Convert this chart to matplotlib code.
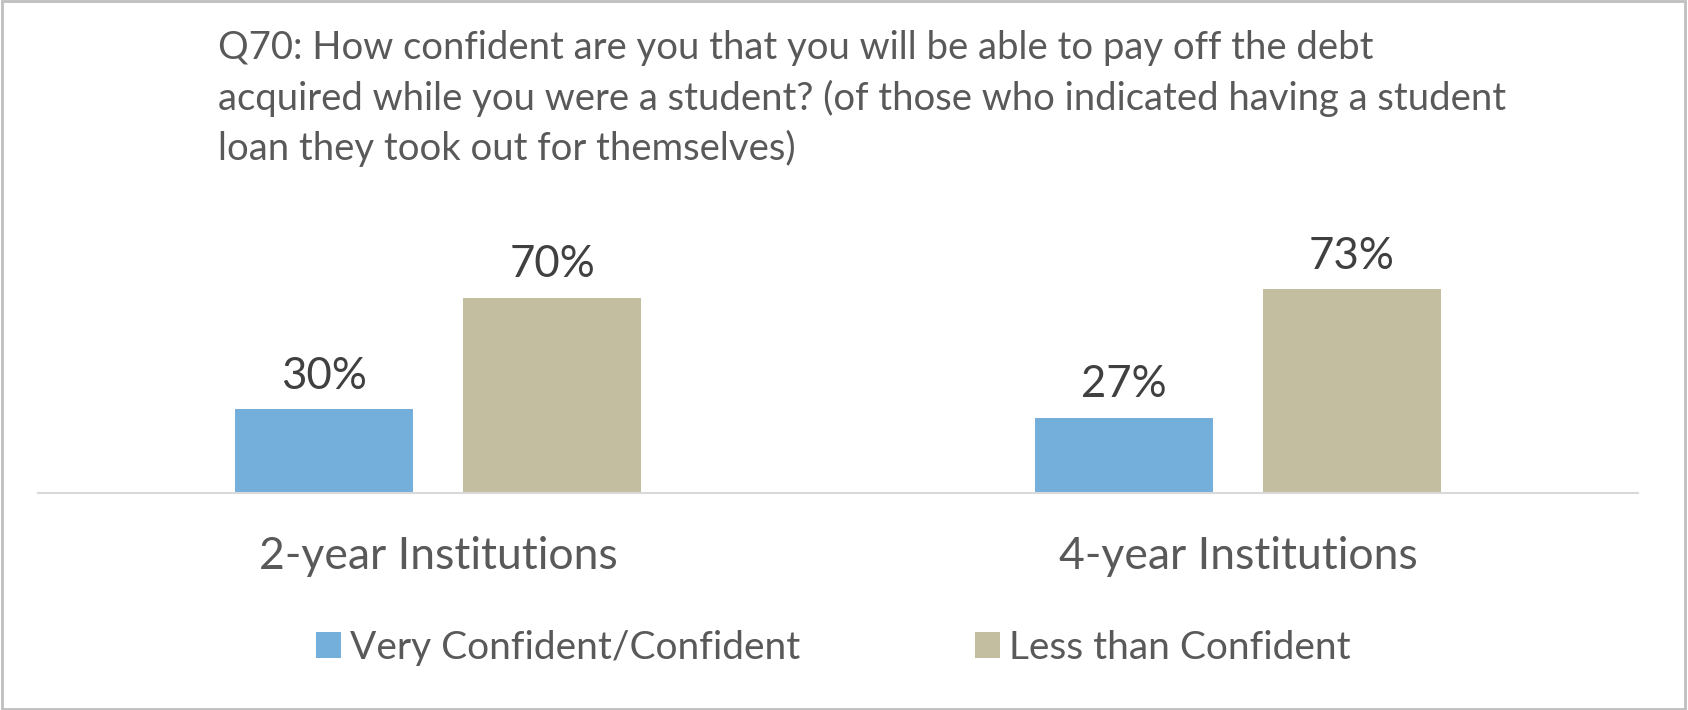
import matplotlib.pyplot as plt
from matplotlib.patches import Patch, Rectangle

# data
categories = ['2-year Institutions', '4-year Institutions']
series_names = ['Very Confident/Confident', 'Less than Confident']
very_confident = [30, 27]
less_confident = [70, 73]
title = ('Q70: How confident are you that you will be able to pay off the debt\n'
         'acquired while you were a student? (of those who indicated having a student\n'
         'loan they took out for themselves)')

blue = '#74AFDB'
tan = '#C4BEA0'
text_gray = '#595959'
label_gray = '#404040'

plt.rcParams['font.family'] = ['Lato', 'DejaVu Sans']

fig = plt.figure(figsize=(16.88, 7.10), dpi=100)
ax = fig.add_axes([38 / 1688, 217 / 710, 1600 / 1688, 223.2 / 710])

x = list(range(len(categories)))
w = 0.2225
off = 0.1425
b1 = ax.bar([i - off for i in x], very_confident, w, color=blue)
b2 = ax.bar([i + off for i in x], less_confident, w, color=tan)

for bars in (b1, b2):
    ax.bar_label(bars, labels=[f'{v}%' for v in bars.datavalues], padding=9,
                 fontsize=31.5, color=label_gray)

ax.set_xlim(-0.5, 1.5)
ax.set_ylim(0, 80)
ax.set_yticks([])
ax.set_xticks(x)
ax.set_xticklabels(categories, fontsize=32, color=text_gray)
ax.tick_params(axis='x', length=0, pad=31)
for s in ['top', 'right', 'left']:
    ax.spines[s].set_visible(False)
ax.spines['bottom'].set_color('#D9D9D9')
ax.spines['bottom'].set_linewidth(1.5)

# title
fig.text(218 / 1688, 1 - 30 / 710, title, ha='left', va='top', fontsize=27.5,
         color=text_gray, linespacing=1.45)

# legend
handles = [Patch(facecolor=blue), Patch(facecolor=tan)]
fig.legend(handles, series_names, loc='center', bbox_to_anchor=(833 / 1688, 1 - 648 / 710),
           ncol=2, frameon=False, fontsize=28, labelcolor=text_gray,
           handlelength=0.65, handleheight=0.65, handletextpad=0.22, columnspacing=4.5)

# outer border
fig.add_artist(Rectangle((0.001, 0.002), 0.997, 0.996, transform=fig.transFigure,
                         fill=False, edgecolor='#BFBFBF', linewidth=2))

fig.savefig('out.png', dpi=100)
